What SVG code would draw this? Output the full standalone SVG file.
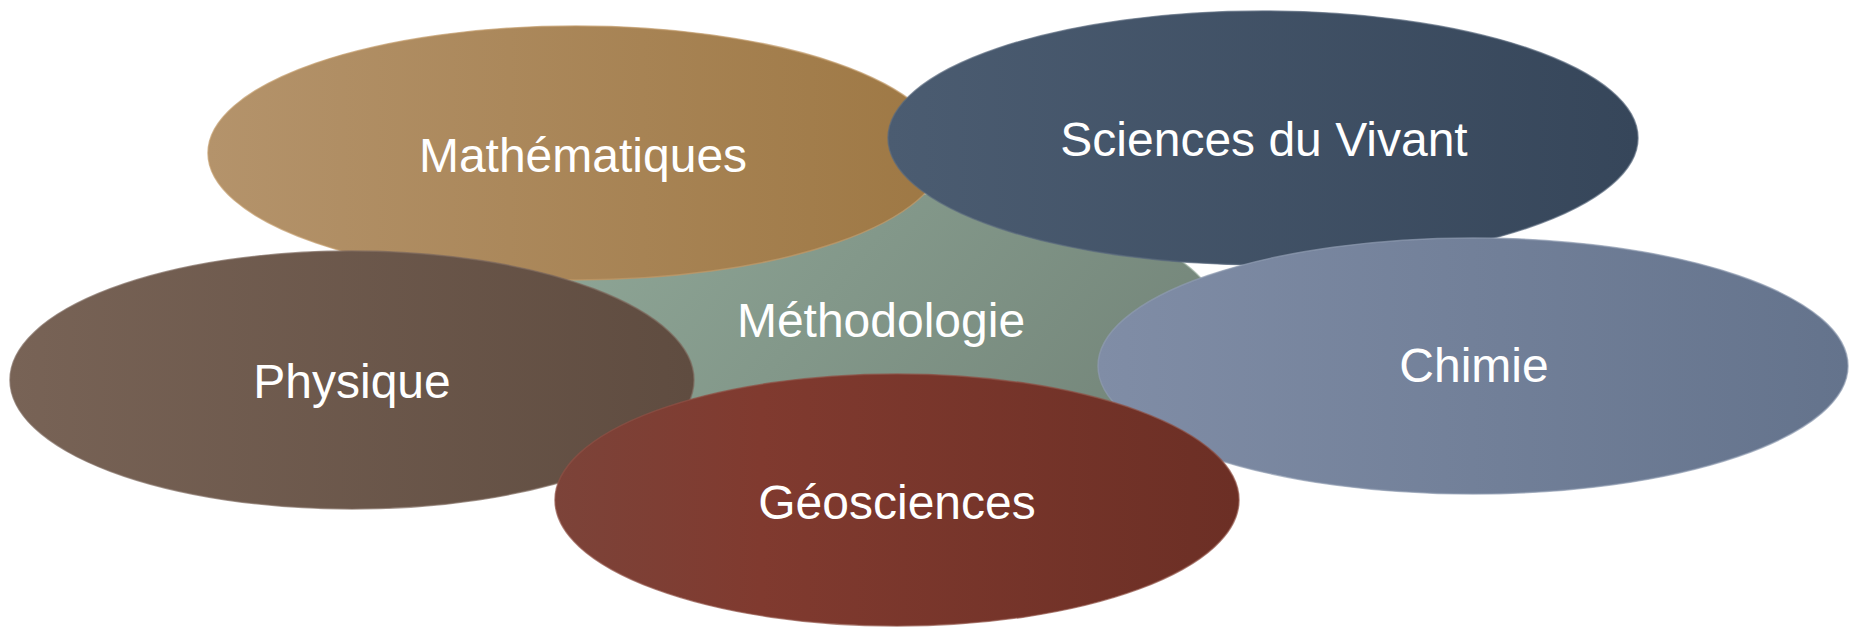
<svg xmlns="http://www.w3.org/2000/svg" width="1851" height="627" viewBox="0 0 1851 627">
  <style>
    .label { font-family: "Liberation Sans", Arial, sans-serif; font-size: 48px; fill: #ffffff; text-anchor: middle; }
    .disc { stroke-width: 1.5; stroke-opacity: 0.7; }
  </style>
  <defs>
    <linearGradient id="gMeth" x1="0" y1="0" x2="1" y2="0.3">
      <stop offset="0" stop-color="#90a898"/>
      <stop offset="1" stop-color="#76887c"/>
    </linearGradient>
    <linearGradient id="gMath" x1="0" y1="0" x2="1" y2="0">
      <stop offset="0" stop-color="#b4936b"/>
      <stop offset="1" stop-color="#9e7844"/>
    </linearGradient>
    <linearGradient id="gVivant" x1="0" y1="0" x2="1" y2="0">
      <stop offset="0" stop-color="#4b5c71"/>
      <stop offset="1" stop-color="#36465a"/>
    </linearGradient>
    <linearGradient id="gPhys" x1="0" y1="0" x2="1" y2="0">
      <stop offset="0" stop-color="#786356"/>
      <stop offset="1" stop-color="#5f4c40"/>
    </linearGradient>
    <linearGradient id="gChim" x1="0" y1="0" x2="1" y2="0">
      <stop offset="0" stop-color="#808da6"/>
      <stop offset="1" stop-color="#64738c"/>
    </linearGradient>
    <linearGradient id="gGeo" x1="0" y1="0" x2="1" y2="0">
      <stop offset="0" stop-color="#7c4339"/>
      <stop offset="0.3" stop-color="#803a2f"/>
      <stop offset="1" stop-color="#6c2f25"/>
    </linearGradient>
  </defs>

  <!-- central hub, drawn first so the satellites overlap it -->
  <g id="methodologie">
    <ellipse class="disc" cx="880" cy="320" rx="340" ry="127" fill="url(#gMeth)" stroke="#9cb0a2"/>
    <text class="label" x="881" y="337">Méthodologie</text>
  </g>

  <g id="mathematiques">
    <ellipse class="disc" cx="576" cy="153" rx="368" ry="127" fill="url(#gMath)" stroke="#c09a6a"/>
    <text class="label" x="583" y="172">Mathématiques</text>
  </g>

  <g id="sciences-du-vivant">
    <ellipse class="disc" cx="1263" cy="138" rx="375" ry="127" fill="url(#gVivant)" stroke="#5a6a7e"/>
    <text class="label" x="1264" y="156">Sciences du Vivant</text>
  </g>

  <g id="physique">
    <ellipse class="disc" cx="352" cy="380" rx="342" ry="129" fill="url(#gPhys)" stroke="#7e6a5e"/>
    <text class="label" x="352" y="398">Physique</text>
  </g>

  <g id="chimie">
    <ellipse class="disc" cx="1473" cy="366" rx="375" ry="128" fill="url(#gChim)" stroke="#8f9bb1"/>
    <text class="label" x="1474" y="382">Chimie</text>
  </g>

  <g id="geosciences">
    <ellipse class="disc" cx="897" cy="500" rx="342" ry="126" fill="url(#gGeo)" stroke="#8e5045"/>
    <text class="label" x="897" y="519">Géosciences</text>
  </g>

  <g id="connectors"></g>
</svg>
